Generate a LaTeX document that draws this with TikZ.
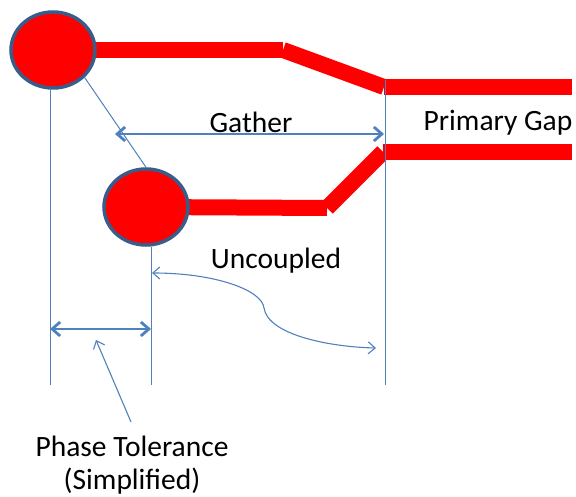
\documentclass[tikz,border=0pt]{standalone}
\usepackage{fontspec}
\setmainfont{Carlito}
\usetikzlibrary{arrows.meta,shapes.geometric,backgrounds}
\definecolor{ofblue}{HTML}{4F81BD}
\definecolor{ofdark}{HTML}{385D8A}
\tikzset{
  ball/.style={ellipse,draw=ofdark,line width=3.5pt,fill=red,minimum width=84pt,minimum height=76pt,inner sep=0pt},
  track/.style={draw=red,line width=16pt,line cap=butt},
  guide/.style={draw=ofblue,line width=1pt},
  dimarrow/.style={draw=ofblue,line width=2.8pt,{Straight Barb[length=8pt,width=14pt]}-{Straight Barb[length=8pt,width=14pt]}},
  thinarrow/.style={draw=ofblue,line width=1.1pt},
  lbl/.style={font=\fontsize{29.5}{33}\selectfont,text=black,inner sep=0pt}
}
\begin{document}
\begin{tikzpicture}[x=1pt,y=-1pt]
\useasboundingbox (0,0) rectangle (576,497);
% balls
\node[ball] (c1) at (53,50) {};
\node[ball] (c2) at (146,207) {};
% track coordinates
\coordinate (t1) at (283,50);
\coordinate (t2) at (384,87);
\coordinate (t3) at (572,87);
\coordinate (b1) at (327,208);
\coordinate (b2) at (383,152);
\coordinate (b3) at (572,152);
\begin{scope}[on background layer]
\draw[track] (c1.center) -- (t1);
\draw[track] (t1) -- (t2);
\draw[track] (t2) -- (t3);
\draw[track] (c2.center) -- (b1);
\draw[track] (b1) -- (b2);
\draw[track] (b2) -- (b3);
\end{scope}
% guide lines
\coordinate (g1) at (50,385);
\coordinate (g2) at (151,385);
\coordinate (g3) at (385,385);
\draw[guide] (c1.south -| g1) -- (g1);
\draw[guide] (c2.south -| g2) -- (g2);
\draw[guide] (385,80) -- (g3);
\draw[guide] (c1.-41) -- (c2.north);
% gather
\coordinate (ga) at (115,134);
\coordinate (gb) at (384,134);
\draw[dimarrow] (ga) -- (gb);
\node[lbl] (gather) at (251,122) {Gather};
\node[lbl] (primary) at (498,123) {Primary Gap};
% phase tolerance
\coordinate (pa) at (50,329);
\coordinate (pb) at (151,329);
\draw[dimarrow] (pa) -- (pb);
\node[lbl] (phase) at (132,446) {Phase Tolerance};
\node[lbl] (simp) at (132,481) {(Simplified)};
\coordinate (ptip) at (96,340);
\draw[thinarrow,-{Straight Barb[length=7pt,width=12pt]}] (131,422) -- (ptip);
% uncoupled
\node[lbl] (unc) at (276,261) {Uncoupled};
\coordinate (ua) at (152,273);
\coordinate (um) at (264,308);
\coordinate (ub) at (376,348);
\draw[thinarrow,{Straight Barb[length=7pt,width=12pt]}-{Straight Barb[length=7pt,width=12pt]}]
  (ua) .. controls (215,273) and (262,290) .. (um) .. controls (268,335) and (330,347) .. (ub);
\end{tikzpicture}
\end{document}
